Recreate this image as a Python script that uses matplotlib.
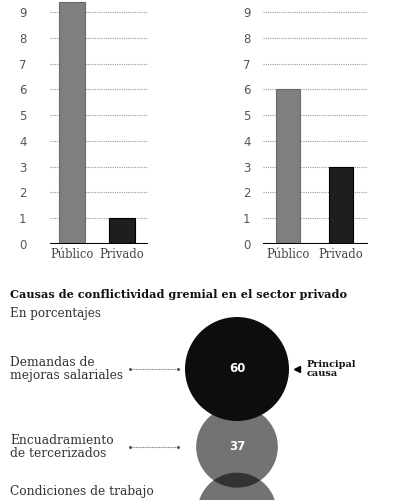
import numpy as np
import matplotlib.pyplot as plt
from matplotlib.patches import Circle

# datos
sectores = ['Público', 'Privado']
conflictos_izq = [9.4, 1]
conflictos_der = [6, 3]
y_ticks = list(range(10))

causas = ['Demandas de\nmejoras salariales', 'Encuadramiento\nde tercerizados', 'Condiciones de trabajo']
porcentajes = [60, 37, 35]

titulo = 'Causas de conflictividad gremial en el sector privado'
subtitulo = 'En porcentajes'

colores_barras = ['#7f7f7f', '#1e1e1e']

W, H = 400, 500
fig = plt.figure(figsize=(4, 5), dpi=100)
fig.patch.set_facecolor('white')


def px_axes(x0, y0, x1, y1):
    # pixeles (origen arriba a la izquierda) -> coords de figura
    return fig.add_axes([x0 / W, 1 - y1 / H, (x1 - x0) / W, (y1 - y0) / H])


def barras(ax, valores, xlim, ancho, pad):
    ax.bar(range(len(valores)), valores, width=ancho, color=colores_barras,
           edgecolor=['#6a6a6a', '#000000'], linewidth=0.8, zorder=3)
    for v in y_ticks[1:]:
        ax.axhline(v, color='#9a9a9a', linestyle=(0, (1, 1)), linewidth=0.8, zorder=1)
    ax.axhline(0, color='black', linewidth=2.2, zorder=4)
    ax.set_xlim(*xlim)
    ax.set_ylim(0, 9.47)
    ax.set_yticks(y_ticks)
    ax.set_yticklabels([str(t) for t in y_ticks], fontsize=8.5, color='#555555',
                       family='DejaVu Sans')
    ax.set_xticks(range(len(valores)))
    ax.set_xticklabels(sectores, fontsize=8.3, color='#444444', family='DejaVu Serif')
    ax.tick_params(axis='both', length=0)
    ax.tick_params(axis='y', pad=pad)
    ax.tick_params(axis='x', pad=3)
    for s in ax.spines.values():
        s.set_visible(False)


ax1 = px_axes(50, 0, 148, 244)
barras(ax1, conflictos_izq, (-0.44, 1.52), 0.52, 17)

ax2 = px_axes(263, 0, 368, 244)
barras(ax2, conflictos_der, (-0.47, 1.51), 0.46, 9)

# parte inferior: burbujas
ax3 = fig.add_axes([0, 0, 1, 1])
ax3.set_xlim(0, W)
ax3.set_ylim(H, 0)
ax3.axis('off')
ax3.patch.set_alpha(0)

ax3.text(10, 294, titulo, fontsize=8.1, fontweight='heavy', family='DejaVu Serif',
         color='#111111', va='center', ha='left')
ax3.text(10, 313, subtitulo, fontsize=8.6, family='DejaVu Serif',
         color='#333333', va='center', ha='left')

cx = 237
r_max = 52
radios = [r_max * np.sqrt(p / porcentajes[0]) for p in porcentajes]
centros = [369]
for i in range(1, len(radios)):
    centros.append(centros[-1] + radios[i - 1] + radios[i] - 15)

for i, (p, r, cy, lab) in enumerate(zip(porcentajes, radios, centros, causas)):
    if i == 0:
        c = Circle((cx, cy), r, facecolor='#0d0d0d', edgecolor='none', zorder=5)
    else:
        c = Circle((cx, cy), r, facecolor='black', alpha=0.55, edgecolor='none', zorder=3)
    ax3.add_patch(c)
    ty = min(cy, 491)
    if cy < H - 10:
        ax3.text(cx, cy, str(p), color='white', fontsize=8.5, fontweight='bold',
                 family='DejaVu Sans', ha='center', va='center', zorder=6)
        ax3.plot([130, 178], [cy, cy], color='#8a8a8a', linestyle=(0, (1, 0.6)),
                 linewidth=0.8)
        ax3.plot([130, 178], [cy, cy], 'o', color='#555555', markersize=1.2)
    ax3.text(10, ty, lab, fontsize=8.8, family='DejaVu Serif', color='#333333',
             ha='left', va='center', linespacing=1.0)

ax3.plot(297, centros[0], marker='<', color='black', markersize=4)
ax3.text(307, centros[0], 'Principal\ncausa', fontsize=7, fontweight='bold',
         family='DejaVu Serif', color='#111111', ha='left', va='center',
         linespacing=1.0)

fig.savefig('out.png', dpi=100)
